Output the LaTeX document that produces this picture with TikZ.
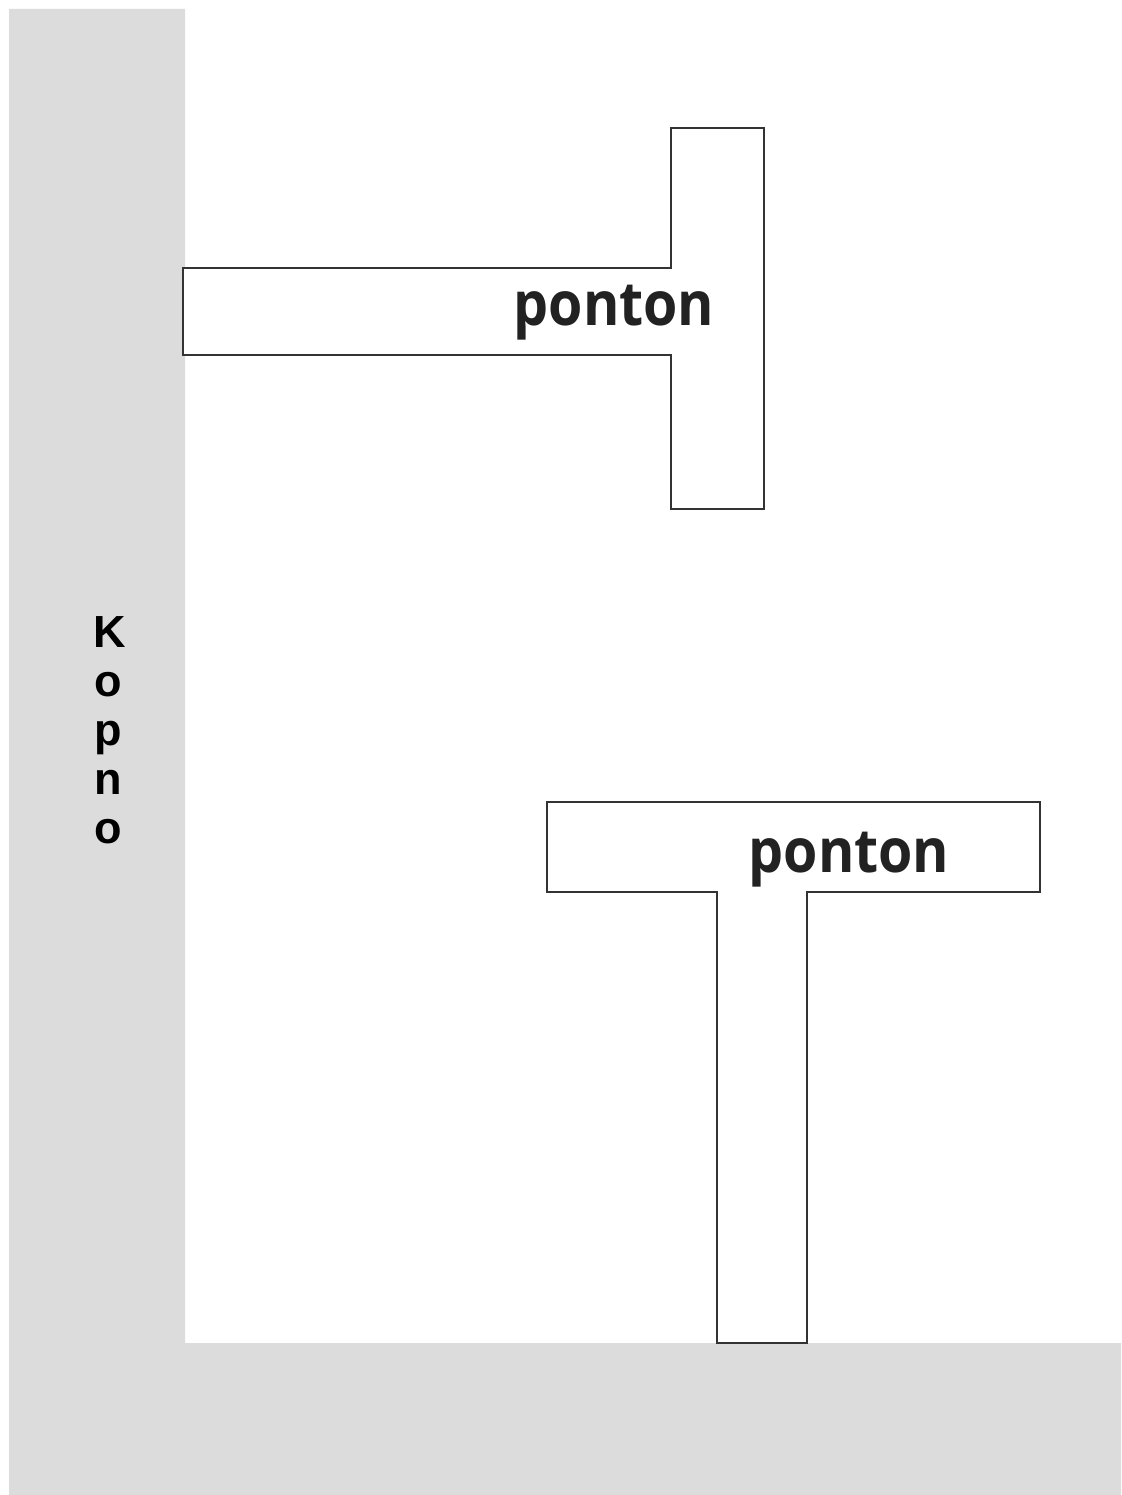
\documentclass[tikz,border=0pt]{standalone}
\usepackage{fontspec}
\newfontfamily\pfont{Open Sans}
\newfontfamily\kfont{Liberation Sans}
\definecolor{landgray}{HTML}{DCDCDC}
\definecolor{linegray}{HTML}{333333}
\definecolor{txtgray}{HTML}{222222}
\newcommand{\pontxt}{\scalebox{0.91}[1]{ponton}}
\begin{document}
\begin{tikzpicture}[x=1pt,y=-1pt,
  land/.style={fill=landgray,draw=none},
  pontonshape/.style={draw=linegray,line width=2.2pt,fill=white,line join=miter},
  pontonlabel/.style={anchor=base,inner sep=0pt,text=txtgray,font=\pfont\bfseries\fontsize{61}{61}\selectfont},
  kletter/.style={anchor=base,inner sep=0pt,text=black,font=\kfont\bfseries\fontsize{45}{45}\selectfont}]
\useasboundingbox (0,0) rectangle (1121,1495);
\fill[white] (0,0) rectangle (1121,1495);
% land (quay)
\path[land] (9,9) -- (185,9) -- (185,1343) -- (1121,1343) -- (1121,1495) -- (9,1495) -- cycle;
% top pontoon
\draw[pontonshape] (183,268) -- (671,268) -- (671,128) -- (764,128) -- (764,509) -- (671,509) -- (671,355) -- (183,355) -- cycle;
% bottom pontoon
\draw[pontonshape] (547,802) -- (1040,802) -- (1040,892) -- (807,892) -- (807,1343) -- (717,1343) -- (717,892) -- (547,892) -- cycle;
\node[pontonlabel] (p1) at (614,325) {\pontxt};
\node[pontonlabel] (p2) at (849,872) {\pontxt};
\node[kletter] (k1) at (110,647) {K};
\node[kletter] (k2) at (108,696) {o};
\node[kletter] (k3) at (108,745) {p};
\node[kletter] (k4) at (108,794) {n};
\node[kletter] (k5) at (108,843) {o};
\end{tikzpicture}
\end{document}
